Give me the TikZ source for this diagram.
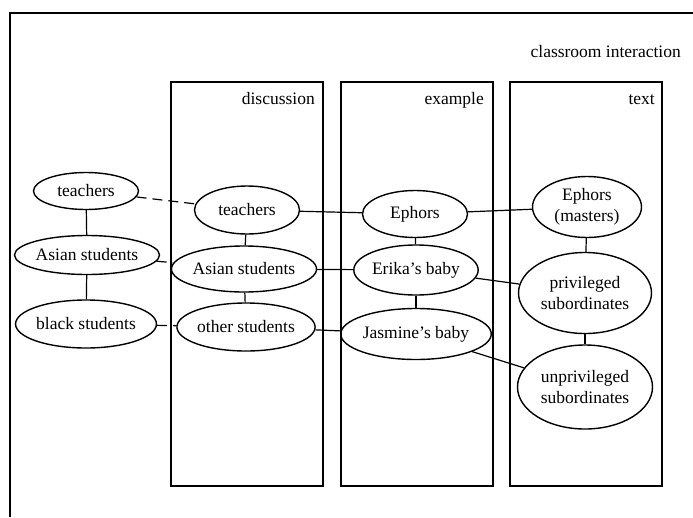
\documentclass[tikz,border=0pt]{standalone}
\usepackage{fontspec}
\setmainfont{Liberation Serif}
\usetikzlibrary{shapes.geometric}
\begin{document}
\begin{tikzpicture}[x=1pt,y=-1pt,
  el/.style={draw,ellipse,inner sep=0pt,line width=1.4pt,align=center,
    font=\fontsize{17.5}{21}\selectfont},
  col/.style={draw,line width=1.3pt},
  lbl/.style={font=\fontsize{17.5}{21}\selectfont,anchor=base east,inner sep=0pt},
  link/.style={line width=1.2pt},
  dlink/.style={line width=1.2pt,dash pattern=on 10pt off 6pt}]
\useasboundingbox (0,0) rectangle (693,517);
% outer frame (top and left only)
\draw[line width=1.5pt] (10,517) -- (10,13) -- (693,13);
\node[lbl] (ci) at (681,57) {classroom interaction};
% column boxes
\draw[col] (171,82) rectangle (323,486);
\draw[col] (341,82) rectangle (493,486);
\draw[col] (510,82) rectangle (662,486);
\node[lbl] (ld) at (315,104) {discussion};
\node[lbl] (le) at (484,104) {example};
\node[lbl] (lt) at (655,104) {text};
% left column
\node[el,minimum width=105pt,minimum height=37pt] (t0) at (86,191) {teachers};
\node[el,minimum width=140pt,minimum height=39pt] (a0) at (87,255) {Asian students};
\node[el,minimum width=126pt,minimum height=48pt] (b0) at (86,324) {black students};
% discussion
\node[el,minimum width=105pt,minimum height=48pt] (t1) at (247,210) {teachers};
\node[el,minimum width=128pt,minimum height=46pt] (a1) at (244,269) {Asian students};
\node[el,minimum width=133pt,minimum height=48pt] (o1) at (246,327) {other students};
% example
\node[el,minimum width=105pt,minimum height=47pt] (e2) at (415,214) {Ephors};
\node[el,minimum width=103pt,minimum height=50pt] (k2) at (416,270) {Erika's baby};
\node[el,minimum width=136pt,minimum height=51pt] (j2) at (416,334) {Jasmine's baby};
% text
\node[el,minimum width=109pt,minimum height=61pt] (e3) at (587,207) {Ephors\\(masters)};
\node[el,minimum width=133pt,minimum height=81pt] (p3) at (585,293) {privileged\\subordinates};
\node[el,minimum width=135pt,minimum height=84pt] (u3) at (585,387) {unprivileged\\subordinates};
% vertical links
\draw[link] (t0) -- (a0); \draw[link] (a0) -- (b0);
\draw[link] (t1) -- (a1); \draw[link] (a1) -- (o1);
\draw[link] (e2) -- (k2); \draw[link] (k2) -- (j2);
\draw[link] (e3) -- (p3); \draw[link] (p3) -- (u3);
% dashed links
\draw[dlink] (t0) -- (t1);
\draw[dlink] (a0) -- (a1);
\draw[dlink] (b0) -- (o1);
% horizontal links
\draw[link] (t1) -- (e2);
\draw[link] (e2) -- (e3);
\draw[link] (a1) -- (k2);
\draw[link] (k2) -- (p3);
\draw[link] (o1) -- (j2);
\draw[link] (j2) -- (u3);
\end{tikzpicture}
\end{document}
